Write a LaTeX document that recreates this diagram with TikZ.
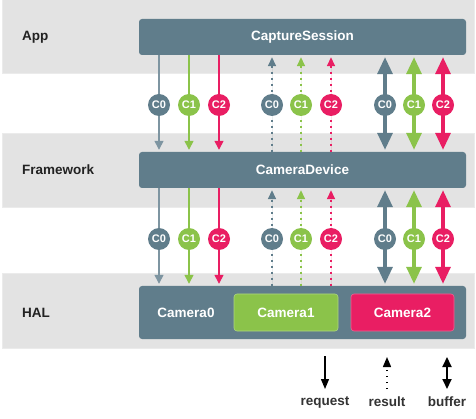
\documentclass[tikz,border=0pt]{standalone}
\usepackage{fontspec}
\setmainfont{Liberation Sans}
\usetikzlibrary{arrows.meta}
\definecolor{bg}{HTML}{607D8B}
\definecolor{bgl}{HTML}{7E95A1}
\definecolor{lg}{HTML}{8BC34A}
\definecolor{pk}{HTML}{E91E63}
\definecolor{band}{HTML}{E3E3E3}
\definecolor{txt}{HTML}{222222}
\tikzset{
  bandbox/.style={fill=band, draw=white!92!black, line width=0.6pt},
  mainbox/.style={fill=bg, rounded corners=3pt, minimum width=327pt, text=white, font=\bfseries\fontsize{13.5}{15}\selectfont, inner sep=0pt},
  subbox/.style={rounded corners=3pt, minimum width=104pt, minimum height=37pt, text=white, font=\bfseries\fontsize{13.5}{15}\selectfont, inner sep=0pt, line width=0.6pt},
  lay/.style={text=txt, font=\bfseries\fontsize{13.5}{15}\selectfont, anchor=west, inner sep=0pt},
  chan/.style={circle, minimum size=22pt, inner sep=0pt, text=white, font=\bfseries\fontsize{11}{12}\selectfont},
  req/.style={line width=1.4pt, -{Triangle[width=9pt,length=9pt]}},
  res/.style={line width=1.5pt, dash pattern=on 1.5pt off 4.5pt, -{Triangle[width=8pt,length=9pt]}},
  buf/.style={line width=3.2pt, {Triangle[width=15pt,length=17pt]}-{Triangle[width=15pt,length=17pt]}},
  legtxt/.style={text=black!80, font=\bfseries\fontsize{13.5}{15}\selectfont, inner sep=0pt},
}
\begin{document}
\begin{tikzpicture}[x=1pt,y=-1pt]
\useasboundingbox (0,0) rectangle (476,419);
% bands
\fill[white] (0,0) rectangle (476,419);
\draw[bandbox] (2,-1) rectangle (474,73);
\draw[bandbox] (2,133) rectangle (474,207);
\draw[bandbox] (2,273) rectangle (474,348);
% layer labels
\node[lay] (lapp) at (22,37) {App};
\node[lay] (lfw) at (22,170) {Framework};
\node[lay] (lhal) at (22,313) {HAL};
% boxes
\node[mainbox, minimum height=36pt] (cs) at (302.5,37) {CaptureSession};
\node[mainbox, minimum height=36pt] (cd) at (302.5,170) {CameraDevice};
\node[mainbox, minimum height=53pt] (hal) at (302.5,312.5) {};
\node[text=white, font=\bfseries\fontsize{13.5}{15}\selectfont] (cam0) at (186,313) {Camera0};
\node[subbox, fill=lg, draw=lg!70!white] (cam1) at (286,312.5) {Camera1};
\node[subbox, fill=pk, draw=pk!70!white, minimum width=103pt] (cam2) at (402.5,312.5) {Camera2};
% channel circle positions
\foreach \lvl/\y in {a/105, b/239} {
  \coordinate (s0\lvl) at (159,\y);
  \coordinate (s1\lvl) at (189,\y);
  \coordinate (s2\lvl) at (219,\y);
  \coordinate (d0\lvl) at (272,\y);
  \coordinate (d1\lvl) at (301,\y);
  \coordinate (d2\lvl) at (331,\y);
  \coordinate (b0\lvl) at (385,\y);
  \coordinate (b1\lvl) at (414,\y);
  \coordinate (b2\lvl) at (443,\y);
}
% arrows
\foreach \up/\dn/\lvl in {cs/cd/a, cd/hal/b} {
  \foreach \i/\c/\cl in {0/bgl/bg, 1/lg/lg, 2/pk/pk} {
    \draw[req, draw=\c, fill=\c, shorten >=2pt] (\up.south -| s\i\lvl) -- (\dn.north -| s\i\lvl);
    \draw[res, draw=\cl, fill=\cl, shorten >=2pt] (\dn.north -| d\i\lvl) -- (\up.south -| d\i\lvl);
    \draw[buf, draw=\cl, fill=\cl, shorten >=2pt, shorten <=2pt] (\up.south -| b\i\lvl) -- (\dn.north -| b\i\lvl);
  }
}
% circles on top
\foreach \lvl in {a, b} {
  \node[chan, fill=bg] (cs0\lvl) at (s0\lvl) {C0};
  \node[chan, fill=lg] (cs1\lvl) at (s1\lvl) {C1};
  \node[chan, fill=pk] (cs2\lvl) at (s2\lvl) {C2};
  \node[chan, fill=bg] (cd0\lvl) at (d0\lvl) {C0};
  \node[chan, fill=lg] (cd1\lvl) at (d1\lvl) {C1};
  \node[chan, fill=pk] (cd2\lvl) at (d2\lvl) {C2};
  \node[chan, fill=bg] (cb0\lvl) at (b0\lvl) {C0};
  \node[chan, fill=lg] (cb1\lvl) at (b1\lvl) {C1};
  \node[chan, fill=pk] (cb2\lvl) at (b2\lvl) {C2};
}
% legend
\node[legtxt] (lreq) at (325,402) {request};
\node[legtxt] (lres) at (387,402) {result};
\node[legtxt] (lbuf) at (447,402) {buffer};
\coordinate (rq1) at (325,356); \coordinate (rq2) at (325,389);
\coordinate (rs1) at (387,389); \coordinate (rs2) at (387,357);
\coordinate (bf1) at (447,357); \coordinate (bf2) at (447,389);
\draw[line width=1.3pt, -{Triangle[width=8pt,length=10pt]}] (rq1) -- (rq2);
\draw[line width=1.4pt, dash pattern=on 1.5pt off 4.5pt, -{Triangle[width=8pt,length=10pt]}] (rs1) -- (rs2);
\draw[line width=2pt, {Triangle[width=9pt,length=10pt]}-{Triangle[width=9pt,length=10pt]}] (bf1) -- (bf2);
\end{tikzpicture}
\end{document}
